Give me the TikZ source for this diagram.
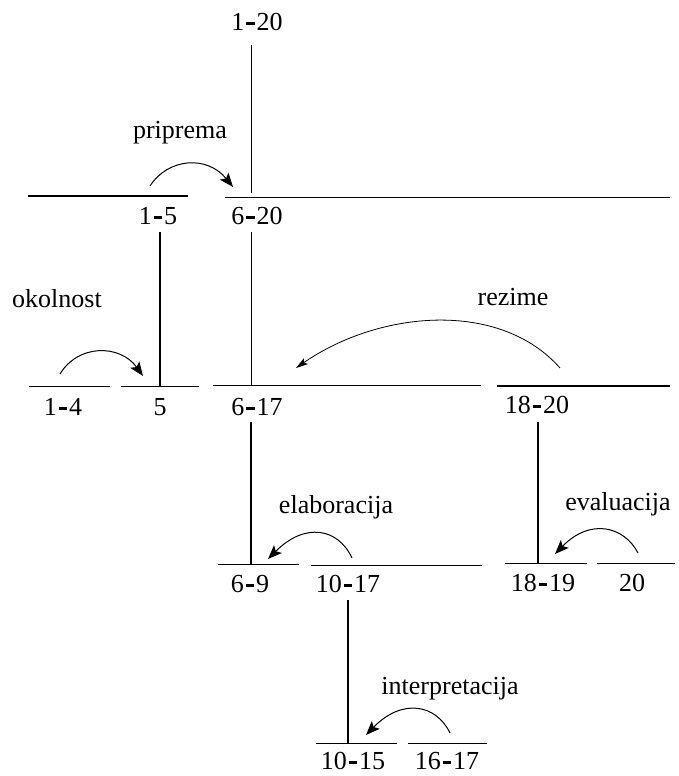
\documentclass[tikz,border=0pt]{standalone}
\usepackage{fontspec}
\setmainfont{Liberation Serif}
\usetikzlibrary{arrows.meta}
\newcommand\hy{\kern0.08em\rule[0.21em]{0.31em}{0.12em}\kern0.08em}
\begin{document}
\begin{tikzpicture}[x=1pt,y=-1pt,
  lbl/.style={font=\fontsize{26}{28}\selectfont, inner sep=0pt},
  thin/.style={line width=1pt},
  thick/.style={line width=2pt},
  rel/.style={line width=1pt,-{Stealth[length=14pt,width=11pt,inset=3pt]}},
  relthin/.style={line width=0.8pt,-{Stealth[length=12pt,width=7pt,inset=2.5pt]}}]
\useasboundingbox (0,0) rectangle (678,776);
% labels
\node[lbl] (n120) at (257,22) {1\hy 20};
\node[lbl] (n15) at (158,216) {1\hy 5};
\node[lbl] (n620) at (257,216) {6\hy 20};
\node[lbl] (n14) at (63,407) {1\hy 4};
\node[lbl] (n5) at (160,407) {5};
\node[lbl] (n617) at (257,407) {6\hy 17};
\node[lbl] (n1820) at (537,405) {18\hy 20};
\node[lbl] (n69) at (250,584) {6\hy 9};
\node[lbl] (n1017) at (348,584) {10\hy 17};
\node[lbl] (n1819) at (543,583) {18\hy 19};
\node[lbl] (n20) at (632,583) {20};
\node[lbl] (n1015) at (353,761) {10\hy 15};
\node[lbl] (n1617) at (447,761) {16\hy 17};
% relation names
\node[lbl] (rpri) at (180,133) {priprema};
\node[lbl] (rokol) at (57,299) {okolnost};
\node[lbl] (rrez) at (513,297) {rezime};
\node[lbl] (relab) at (336,507) {elaboracija};
\node[lbl] (reval) at (618,504) {evaluacija};
\node[lbl] (rint) at (450,689) {interpretacija};
% span lines
\coordinate (a15) at (28,196); \coordinate (b15) at (188,196);
\coordinate (a620) at (225,197); \coordinate (b620) at (670,197);
\coordinate (a14) at (29,386); \coordinate (b14) at (110,386);
\coordinate (a5) at (121,386); \coordinate (b5) at (199,386);
\coordinate (a617) at (213,385); \coordinate (b617) at (481,385);
\coordinate (a1820) at (497,386); \coordinate (b1820) at (670,386);
\coordinate (a69) at (218,564); \coordinate (b69) at (299,564);
\coordinate (a1017) at (311,565); \coordinate (b1017) at (482,565);
\coordinate (a1819) at (505,563); \coordinate (b1819) at (587,563);
\coordinate (a20) at (597,563); \coordinate (b20) at (675,563);
\coordinate (a1015) at (316,743); \coordinate (b1015) at (397,743);
\coordinate (a1617) at (408,743); \coordinate (b1617) at (487,743);
\draw[thick] (a15) -- (b15);
\draw[thin] (a620) -- (b620);
\draw[thin] (a14) -- (b14);
\draw[thin] (a5) -- (b5);
\draw[thin] (a617) -- (b617);
\draw[thick] (a1820) -- (b1820);
\draw[thin] (a69) -- (b69);
\draw[thin] (a1017) -- (b1017);
\draw[thin] (a1819) -- (b1819);
\draw[thin] (a20) -- (b20);
\draw[thin] (a1015) -- (b1015);
\draw[thin] (a1617) -- (b1617);
% verticals
\coordinate (v120) at (251,193);
\coordinate (v15) at (160,386);
\coordinate (v620) at (251,385);
\coordinate (v617) at (251,564);
\coordinate (v1820) at (538,563);
\coordinate (v1017) at (348,743);
\draw[thin] (251,45) -- (v120);
\draw[thick] (160,232) -- (v15);
\draw[thin] (251,232) -- (v620);
\draw[thick] (251,422) -- (v617);
\draw[thick] (538,422) -- (v1820);
\draw[thick] (348,600) -- (v1017);
% relation arrows
\draw[rel] (150,186) .. controls (168,158) and (207,155) .. (233,187);
\draw[rel] (60,374) .. controls (78,344) and (120,344) .. (143,376);
\draw[relthin] (560,368) .. controls (500,300) and (380,310) .. (296,368);
\draw[rel] (352,558) .. controls (338,528) and (305,522) .. (268,559);
\draw[rel] (638,553) .. controls (624,526) and (590,518) .. (555,554);
\draw[rel] (450,733) .. controls (436,704) and (402,698) .. (366,735);
\end{tikzpicture}
\end{document}
